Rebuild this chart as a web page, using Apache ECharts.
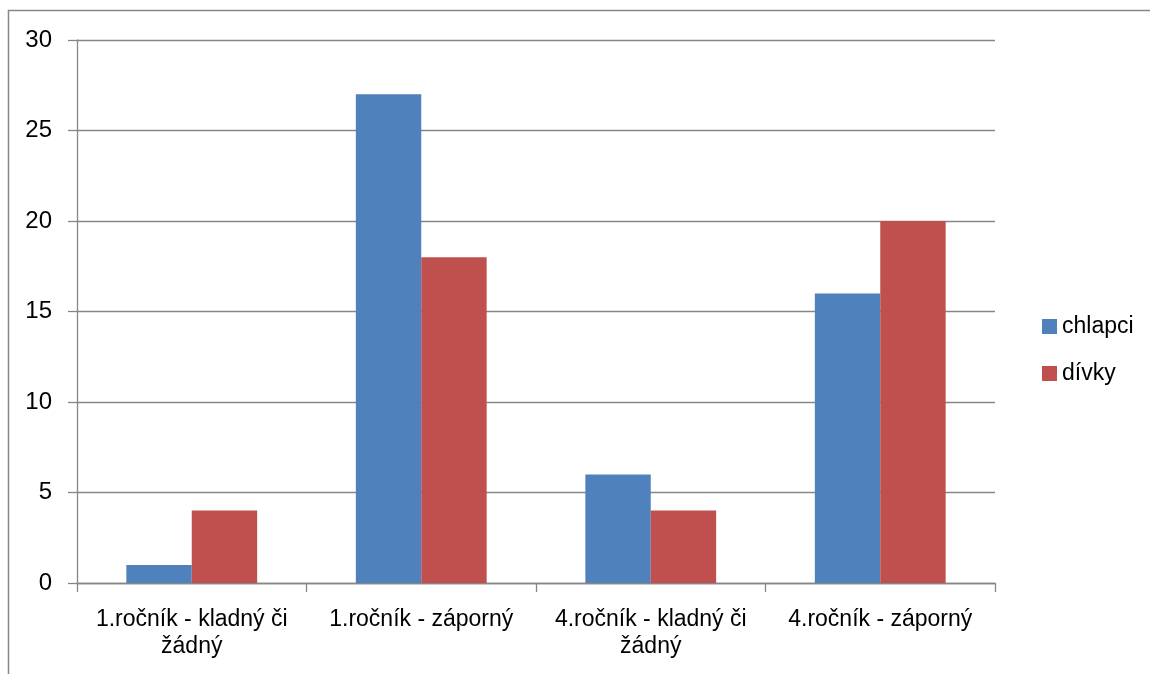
<!DOCTYPE html>
<html><head><meta charset="utf-8">
<script src="https://cdn.jsdelivr.net/npm/echarts@6/dist/echarts.min.js"></script>
<style>html,body{margin:0;padding:0;background:#fff}#c{width:1150px;height:674px}</style>
</head><body><div id="c"></div>
<script>
const categories = ['1.ročník - kladný či\nžádný', '1.ročník - záporný', '4.ročník - kladný či\nžádný', '4.ročník - záporný'];
const chlapci = [1, 27, 6, 16];
const divky = [4, 18, 4, 20];
const seriesNames = ['chlapci', 'dívky'];
const FONT = "'Liberation Sans', Arial, sans-serif";
const chart = echarts.init(document.getElementById('c'), null, {renderer: 'canvas'});
chart.setOption({
  animation: false,
  textStyle: {fontFamily: FONT},
  graphic: [{type: 'rect', shape: {x: 8.5, y: 10.5, width: 1200, height: 700}, style: {fill: 'none', stroke: '#868686', lineWidth: 1.5}, silent: true}],
  legend: {
    orient: 'vertical', left: 1037, top: 310, itemWidth: 15, itemHeight: 15, itemGap: 24,
    icon: 'rect',
    textStyle: {fontSize: 23, color: '#000', fontFamily: FONT},
    data: seriesNames
  },
  grid: {left: 77, right: 155, top: 40, bottom: 91, containLabel: false, outerBoundsMode: 'none'},
  xAxis: {
    type: 'category', data: categories,
    axisLine: {lineStyle: {color: '#868686', width: 1.3}},
    axisTick: {show: true, length: 9, lineStyle: {color: '#868686', width: 1.3}},
    axisLabel: {color: '#000', fontSize: 23, margin: 23, lineHeight: 27, interval: 0, fontFamily: FONT}
  },
  yAxis: {
    type: 'value', min: 0, max: 30, interval: 5,
    axisLine: {show: true, lineStyle: {color: '#868686', width: 1.3}},
    axisTick: {show: true, length: 9, lineStyle: {color: '#868686', width: 1.3}},
    splitLine: {lineStyle: {color: '#868686', width: 1.3}},
    axisLabel: {color: '#000', fontSize: 24, margin: 25, fontFamily: FONT}
  },
  series: [
    {name: seriesNames[0], type: 'bar', data: chlapci, barGap: '0%', barCategoryGap: '43%', itemStyle: {color: '#4f81bd'}},
    {name: seriesNames[1], type: 'bar', data: divky, itemStyle: {color: '#c0504d'}}
  ]
});
</script></body></html>
